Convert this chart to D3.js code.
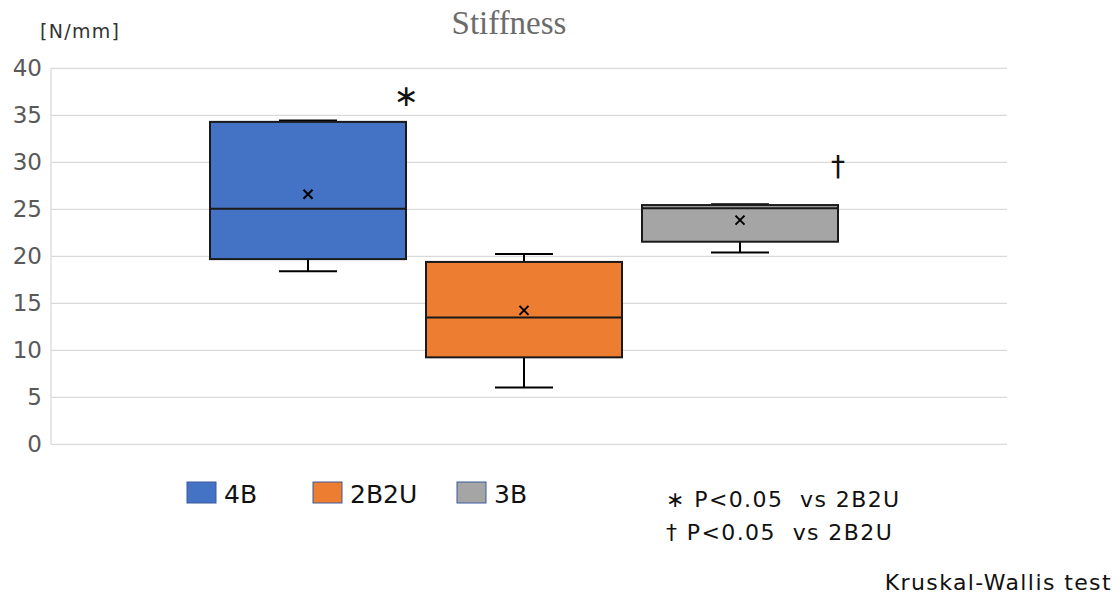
<!DOCTYPE html>
<html><head><meta charset="utf-8">
<script src="https://cdn.jsdelivr.net/npm/d3@7"></script>
<style>body{margin:0;background:#fff;} svg{display:block;}</style>
</head><body>
<svg id="c" width="1120" height="595"></svg>
<script>
const series = ["4B", "2B2U", "3B"];
const colors = ["#4472C4", "#ED7D31", "#A5A5A5"];
const minVals = [18.4, 6.05, 20.4];
const q1Vals = [19.7, 9.25, 21.55];
const medianVals = [25.05, 13.5, 25.1];
const q3Vals = [34.3, 19.4, 25.45];
const maxVals = [34.45, 20.25, 25.55];
const meanVals = [26.6, 14.25, 23.85];
const marks = ["∗", "", "†"];
const yTicks = [0, 5, 10, 15, 20, 25, 30, 35, 40];
const noteLines = ["∗ P<0.05  vs 2B2U", "† P<0.05  vs 2B2U"];

const FONT = "'DejaVu Sans', sans-serif";
const svg = d3.select("#c");
const plotL = 51, plotR = 1007, plotT = 68.3, plotB = 444.3;
const y = d3.scaleLinear().domain([0, 40]).range([plotB, plotT]);
const x = d3.scaleBand().domain(series).range([200, 848]).paddingInner(0.0926).paddingOuter(0.0463);

// gridlines
svg.append("g").selectAll("line").data(yTicks).join("line")
  .attr("x1", plotL).attr("x2", plotR)
  .attr("y1", d => y(d)).attr("y2", d => y(d))
  .attr("stroke", "#d9d9d9").attr("stroke-width", 1.3);
svg.append("line").attr("x1", plotL).attr("x2", plotL).attr("y1", plotT).attr("y2", plotB)
  .attr("stroke", "#d9d9d9").attr("stroke-width", 1.3);

// y axis labels
const yAxis = d3.axisLeft(y).tickValues(yTicks).tickSize(0).tickPadding(8);
const ga = svg.append("g").attr("transform", `translate(${plotL - 1},0)`).call(yAxis);
ga.select(".domain").remove();
ga.selectAll("text").attr("font-family", FONT).attr("font-size", 23).attr("fill", "#595959");

// title & unit
svg.append("text").attr("x", 509).attr("y", 34).attr("text-anchor", "middle")
  .attr("font-family", "'Liberation Serif', serif").attr("font-size", 33).attr("fill", "#6b6b6b")
  .text("Stiffness");
svg.append("text").attr("x", 40).attr("y", 38)
  .attr("font-family", FONT).attr("font-size", 19).attr("fill", "#333").attr("letter-spacing", 1.3)
  .text("[N/mm]");

// boxes
const idx = d3.range(series.length);
const g = svg.append("g");
const capW = 58;
idx.forEach(i => {
  const s = series[i];
  const cx = x(s) + x.bandwidth() / 2;
  const gg = g.append("g");
  gg.append("line").attr("x1", cx).attr("x2", cx).attr("y1", y(maxVals[i])).attr("y2", y(q3Vals[i])).attr("stroke", "#000").attr("stroke-width", 2);
  gg.append("line").attr("x1", cx).attr("x2", cx).attr("y1", y(q1Vals[i])).attr("y2", y(minVals[i])).attr("stroke", "#000").attr("stroke-width", 2);
  gg.append("line").attr("x1", cx - capW / 2).attr("x2", cx + capW / 2).attr("y1", y(maxVals[i])).attr("y2", y(maxVals[i])).attr("stroke", "#000").attr("stroke-width", 2);
  gg.append("line").attr("x1", cx - capW / 2).attr("x2", cx + capW / 2).attr("y1", y(minVals[i])).attr("y2", y(minVals[i])).attr("stroke", "#000").attr("stroke-width", 2);
  gg.append("rect").attr("x", x(s)).attr("width", x.bandwidth())
    .attr("y", y(q3Vals[i])).attr("height", y(q1Vals[i]) - y(q3Vals[i]))
    .attr("fill", colors[i]).attr("stroke", "#1a1a1a").attr("stroke-width", 2);
  gg.append("line").attr("x1", x(s)).attr("x2", x(s) + x.bandwidth())
    .attr("y1", y(medianVals[i])).attr("y2", y(medianVals[i])).attr("stroke", "#1a1a1a").attr("stroke-width", 2);
  const my = y(meanVals[i]), r = 4.5;
  gg.append("path").attr("d", `M${cx - r},${my - r}L${cx + r},${my + r}M${cx - r},${my + r}L${cx + r},${my - r}`)
    .attr("stroke", "#000").attr("stroke-width", 2);
  if (marks[i]) {
    gg.append("text").attr("x", x(s) + x.bandwidth()).attr("y", i === 0 ? y(maxVals[i]) - 14 : y(maxVals[i]) - 28)
      .attr("text-anchor", "middle")
      .attr("font-family", FONT).attr("font-size", i === 0 ? 30 : 28).attr("fill", "#111")
      .text(marks[i]);
  }
});

// legend
const legX = [187, 313, 457];
const lg = svg.append("g");
idx.forEach(i => {
  lg.append("rect").attr("x", legX[i]).attr("y", 482).attr("width", 29).attr("height", 21)
    .attr("fill", colors[i]).attr("stroke", "#3a5a9a").attr("stroke-width", 1);
  lg.append("text").attr("x", legX[i] + 37).attr("y", 503)
    .attr("font-family", FONT).attr("font-size", 25).attr("fill", "#111")
    .text(series[i]);
});

// notes
noteLines.forEach((t, k) => {
  svg.append("text").attr("x", 666).attr("y", 507 + k * 33)
    .attr("font-family", FONT).attr("font-size", 22).attr("fill", "#111").attr("letter-spacing", 1.4)
    .style("white-space", "pre")
    .text(t);
});
svg.append("text").attr("x", 1112).attr("y", 590).attr("text-anchor", "end")
  .attr("font-family", FONT).attr("font-size", 22).attr("fill", "#111").attr("letter-spacing", 1.4)
  .text("Kruskal-Wallis test");
</script>
</body></html>
